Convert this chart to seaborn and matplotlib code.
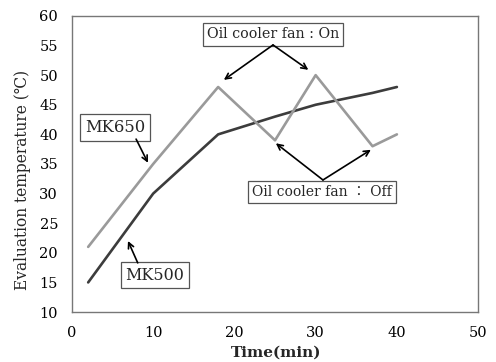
import matplotlib
matplotlib.use("Agg")
import matplotlib.pyplot as plt
import seaborn as sns
import pandas as pd

time_min = [2, 10, 18, 25, 30, 37, 40]
mk500 = [15, 30, 40, 43, 45, 47, 48]
mk650 = [21, 35, 48, 39, 50, 38, 40]
x_ticks = [0, 10, 20, 30, 40, 50]
y_ticks = [10, 15, 20, 25, 30, 35, 40, 45, 50, 55, 60]

sns.set_theme(style="white")
plt.rcParams['font.family'] = ['DejaVu Serif', 'Noto Sans CJK JP']

df = pd.DataFrame({"time": time_min * 2,
                   "temp": mk500 + mk650,
                   "series": ["MK500"] * len(time_min) + ["MK650"] * len(time_min)})

fig = plt.figure(figsize=(4.96, 3.62), dpi=100)
ax = fig.add_axes([0.145, 0.138, 0.819, 0.818])
sns.lineplot(data=df, x="time", y="temp", hue="series",
             palette={"MK500": "#3c3c3c", "MK650": "#9a9a9a"},
             linewidth=1.9, legend=False, ax=ax)

ax.set_xlim(0, 50)
ax.set_ylim(10, 60)
ax.set_xticks(x_ticks)
ax.set_yticks(y_ticks)
ax.tick_params(direction='in', length=4, width=0.8, color='#777777',
               labelsize=10.5, colors='#777777', labelcolor='black', pad=10)
for s in ax.spines.values():
    s.set_color('#777777')
    s.set_linewidth(1.0)
ax.set_xlabel("Time(min)", fontsize=11, fontweight='bold')
ax.xaxis.set_label_coords(0.502, -0.115)
ax.set_ylabel("Evaluation temperature (\u2103)", fontsize=11.2)
ax.yaxis.set_label_coords(-0.1, 0.446)

box = dict(boxstyle='square,pad=0.3', fc='white', ec='#555555', lw=0.9)
arr = dict(arrowstyle='->', color='black', lw=1.2, mutation_scale=10,
           shrinkA=0, shrinkB=0)

ax.text(24.75, 56.9, "Oil cooler fan : On", ha='center', va='center', fontsize=10.3, bbox=box)
ax.annotate("", xy=(18.7, 49.2), xytext=(24.75, 55.1), arrowprops=arr)
ax.annotate("", xy=(29.1, 50.9), xytext=(24.75, 55.1), arrowprops=arr)

ax.text(30.8, 30.3, "Oil cooler fan \uff1a Off", ha='center', va='center', fontsize=10, bbox=box)
ax.annotate("", xy=(25.1, 38.5), xytext=(30.9, 32.3), arrowprops=arr)
ax.annotate("", xy=(36.8, 37.4), xytext=(30.9, 32.3), arrowprops=arr)

ax.text(5.3, 41.1, "MK650", ha='center', va='center', fontsize=11.8, bbox=box)
ax.annotate("", xy=(9.36, 35.2), xytext=(7.9, 39.2), arrowprops=arr)

ax.text(10.2, 16.25, "MK500", ha='center', va='center', fontsize=11.5, bbox=box)
ax.annotate("", xy=(6.9, 22.0), xytext=(8.1, 18.3), arrowprops=arr)

fig.savefig("out.png", dpi=100)
